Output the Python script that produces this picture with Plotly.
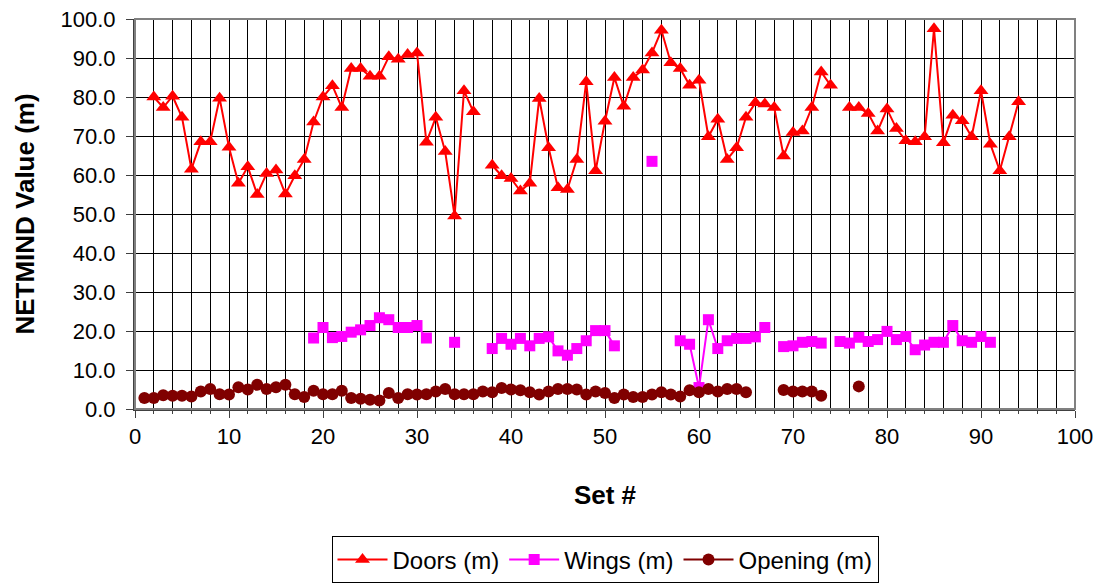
import plotly.graph_objects as go

set_no = list(range(1, 95))

doors = [None, 80.0, 77.3, 80.2, 74.8, 61.5, 68.5, 68.5, 79.7, 67.1,
         57.9, 62.1, 55.0, 60.4, 61.3, 55.1, 59.8, 64.0, 73.6, 80.0,
         82.9, 77.3, 87.3, 87.3, 85.3, 85.3, 90.3, 89.7, 90.9, 91.3,
         68.4, 74.8, 66.0, 49.5, 81.6, 76.2, None, 62.5, 59.8, 59.1,
         55.9, 57.9, 79.6, 67.0, 56.7, 56.3, 64.0, 83.9, 61.1, 73.8,
         85.0, 77.6, 85.0, 86.9, 91.3, 97.1, 88.8, 87.3, 83.0, 84.3,
         69.8, 74.3, 64.0, 67.0, 74.8, 78.5, 78.2, 77.3, 64.9, 70.9,
         71.3, 77.3, 86.4, 83.0, None, 77.3, 77.3, 75.8, 71.3, 76.9,
         71.9, 68.8, 68.5, 69.8, 97.5, 68.3, 75.3, 73.9, 69.8, 81.6,
         67.9, 61.1, 69.8, 78.8]

wings = [None] * 18 + [
    18.2, 20.9, 18.3, 18.6, 19.7, 20.3, 21.4, 23.4, 22.9, 20.9,   # 19-28
    20.9, 21.4, 18.2, None, None, 17.1, None, None, None, 15.5,   # 29-38
    18.1, 16.6, 18.1, 16.2, 18.1, 18.5, 14.9, 13.8, 15.5, 17.5,   # 39-48
    20.1, 20.1, 16.2, None, None, None, 63.5, None, None, 17.5,   # 49-58
    16.6, 5.5, 22.9, 15.5, 17.5, 18.1, 18.1, 18.5, 20.9, None,    # 59-68
    16.0, 16.2, 17.1, 17.3, 16.9, None, 17.3, 16.9, 18.4, 17.3,   # 69-78
    17.8, 19.9, 17.8, 18.6, 15.2, 16.4, 17.1, 17.1, 21.4, 17.5,   # 79-88
    17.1, 18.6, 17.1, None, None, None]                           # 89-94

opening = [
    2.8, 2.8, 3.5, 3.4, 3.4, 3.2, 4.5, 5.1, 3.8, 3.7,     # 1-10
    5.6, 5.0, 6.2, 5.1, 5.6, 6.2, 3.8, 3.1, 4.7, 3.8,     # 11-20
    3.8, 4.7, 2.8, 2.6, 2.4, 2.2, 4.1, 2.8, 3.8, 3.7,     # 21-30
    3.8, 4.5, 5.1, 3.8, 3.8, 3.8, 4.5, 4.3, 5.4, 5.0,     # 31-40
    4.8, 4.3, 3.7, 4.5, 5.1, 5.1, 5.0, 3.7, 4.5, 4.1,     # 41-50
    2.8, 3.7, 3.1, 3.1, 3.7, 4.3, 3.7, 3.2, 4.8, 4.3,     # 51-60
    5.1, 4.5, 5.1, 5.1, 4.3, None, None, None, 4.9, 4.5,  # 61-70
    4.5, 4.5, 3.4, None, None, None, 5.8, None, None, None,  # 71-80
    None, None, None, None, None, None, None, None, None, None,  # 81-90
    None, None, None, None]

series_names = ["Doors (m)", "Wings (m)", "Opening (m)"]
x_ticks = [0, 10, 20, 30, 40, 50, 60, 70, 80, 90, 100]
y_ticks = [0, 10, 20, 30, 40, 50, 60, 70, 80, 90, 100]

FONT = "Liberation Sans, Arial, sans-serif"

fig = go.Figure()
fig.add_trace(go.Scatter(
    x=set_no, y=doors, name=series_names[0], mode="lines+markers",
    line=dict(color="#FF0000", width=2),
    marker=dict(symbol="triangle-up", size=13, color="#FF0000"),
    connectgaps=False))
fig.add_trace(go.Scatter(
    x=set_no, y=wings, name=series_names[1], mode="lines+markers",
    line=dict(color="#FF00FF", width=2),
    marker=dict(symbol="square", size=11, color="#FF00FF"),
    connectgaps=False))
fig.add_trace(go.Scatter(
    x=set_no, y=opening, name=series_names[2], mode="lines+markers",
    line=dict(color="#800000", width=2),
    marker=dict(symbol="circle", size=12, color="#800000"),
    connectgaps=False))

fig.update_layout(
    width=1102, height=586,
    margin=dict(l=135, r=27, t=19, b=177, autoexpand=False),
    paper_bgcolor="white", plot_bgcolor="white",
    font=dict(family=FONT, size=22, color="black"),
    showlegend=True,
    legend=dict(orientation="h", x=0.5, xanchor="center", y=-0.447, yanchor="bottom",
                bordercolor="black", borderwidth=1, bgcolor="white",
                font=dict(size=24), itemwidth=50, tracegroupgap=0),
)

fig.update_xaxes(
    range=[0, 100], tickvals=x_ticks, ticktext=[str(v) for v in x_ticks],
    showgrid=True, gridcolor="black", gridwidth=1,
    minor=dict(dtick=2, showgrid=True, gridcolor="black", gridwidth=1,
               ticks="outside", ticklen=3, tickcolor="#404040"),
    ticks="outside", ticklen=7, tickcolor="#404040",
    showline=True, linecolor="#404040", linewidth=2,
    zeroline=False, automargin=False,
    tickfont=dict(size=22),
    title=dict(text="<b>Set #</b>", font=dict(size=26), standoff=37),
)
fig.update_yaxes(
    range=[0, 100], tickvals=y_ticks,
    ticktext=[f"{v:.1f}\u00a0" for v in y_ticks],
    showgrid=True, gridcolor="black", gridwidth=1,
    ticks="outside", ticklen=7, tickcolor="#404040",
    showline=True, linecolor="#404040", linewidth=2,
    zeroline=False, automargin=False,
    tickfont=dict(size=22),
    title=dict(text="<b>NETMIND Value (m)</b>", font=dict(size=26), standoff=18),
)

fig.add_shape(type="rect", xref="paper", yref="paper", x0=0, y0=0, x1=1, y1=1,
              line=dict(color="#808080", width=2), layer="above")

fig.write_html("out.html")
